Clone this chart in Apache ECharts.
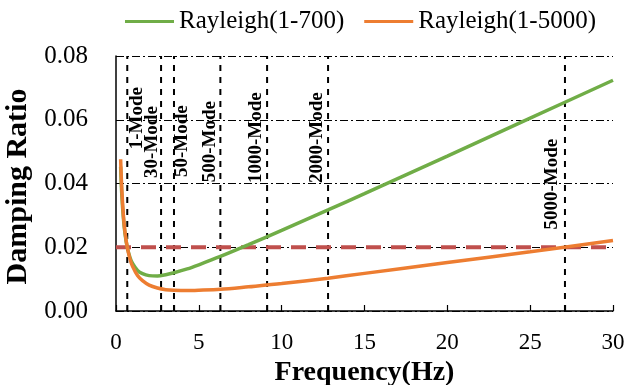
<!DOCTYPE html>
<html>
<head>
<meta charset="utf-8">
<script src="https://cdn.jsdelivr.net/npm/echarts@6/dist/echarts.min.js"></script>
<style>
  html, body { margin: 0; padding: 0; background: #fff; }
  #chart { width: 635px; height: 385px; }
</style>
</head>
<body>
<div id="chart"></div>
<script>
// frequency samples (Hz)
const freqs = [0.28, 0.35, 0.45, 0.55, 0.68, 0.85, 1.0, 1.3, 1.6, 2.0, 2.5, 3.0, 3.5, 4.3, 5, 6.3, 8, 10, 12.8, 15, 20, 25, 30]
const damp700 = [0.0453, 0.0365, 0.0289, 0.0240, 0.0200, 0.0167, 0.0149, 0.0127, 0.0117, 0.0111, 0.0110, 0.0114, 0.0120, 0.0132, 0.0145, 0.0171, 0.0208, 0.0253, 0.0317, 0.0368, 0.0486, 0.0605, 0.0724]
const damp5000 = [0.0476, 0.0382, 0.0298, 0.0245, 0.0200, 0.0162, 0.0140, 0.0111, 0.0095, 0.0081, 0.0072, 0.0067, 0.0065, 0.0064, 0.0065, 0.0068, 0.0076, 0.0086, 0.0103, 0.0118, 0.0152, 0.0186, 0.0221]

// mode frequencies marked by the vertical lines
const modeNames = ['1-Mode', '30-Mode', '50-Mode', '500-Mode', '1000-Mode', '2000-Mode', '5000-Mode']
const modeFreqs = [0.68, 2.72, 3.5, 6.3, 9.12, 12.8, 27.1]

const targetDamping = 0.02
const xTickLabels = [0, 5, 10, 15, 20, 25, 30]
const seriesNames = ['Rayleigh(1-700)', 'Rayleigh(1-5000)']

// where each mode label sits: pixel shift off its line, height in data units
const modeLabelPlace = [
  { dx: 10, y: 0.0605 },
  { dx: -9, y: 0.0530 },
  { dx: 8, y: 0.0533 },
  { dx: -10, y: 0.0531 },
  { dx: -11, y: 0.0544 },
  { dx: -11, y: 0.0544 },
  { dx: -13, y: 0.0398 }
]

const serif = '"Liberation Serif", "Times New Roman", serif'
const dashDot = [8, 3, 2, 3]

const chart = echarts.init(document.getElementById('chart'), null, { renderer: 'canvas' })

// one dashed vertical per mode, spanning the full y range
const modeLineSeries = modeFreqs.map(f => ({
  type: 'line',
  name: 'mode',
  silent: true,
  symbol: 'none',
  z: 1,
  lineStyle: { color: '#000', width: 2, type: [6, 6] },
  data: [[f, 0], [f, 0.08]]
}))

const option = {
  animation: false,
  backgroundColor: '#fff',
  legend: {
    top: 4,
    left: 120,
    itemWidth: 49,
    itemHeight: 3,
    itemGap: 20,
    textStyle: { fontFamily: serif, fontSize: 25, color: '#000' },
    data: seriesNames.map(n => ({ name: n, icon: 'rect' }))
  },
  grid: { left: 116, right: 22, top: 56, bottom: 74, containLabel: false, outerBoundsMode: 'none' },
  xAxis: {
    type: 'value',
    min: 0,
    max: 30,
    interval: 5,
    name: 'Frequency(Hz)',
    nameLocation: 'middle',
    nameGap: 40,
    nameTextStyle: { fontFamily: serif, fontSize: 28, fontWeight: 'bold', color: '#000' },
    axisLine: { lineStyle: { color: '#000', width: 1.5 } },
    axisTick: {
      show: true,
      inside: true,
      length: 6,
      lineStyle: { color: '#000', width: 1.2 },
      customValues: xTickLabels.concat(modeFreqs)
    },
    axisLabel: { fontFamily: serif, fontSize: 23, color: '#000', margin: 20 },
    splitLine: { show: false }
  },
  yAxis: {
    type: 'value',
    min: 0,
    max: 0.08,
    interval: 0.02,
    name: 'Damping Ratio',
    nameLocation: 'middle',
    nameRotate: 90,
    nameGap: 76,
    nameTextStyle: { fontFamily: serif, fontSize: 30, fontWeight: 'bold', color: '#000', padding: [0, 6, 0, 0] },
    axisLine: { show: true, lineStyle: { color: '#000', width: 1.5 } },
    axisTick: { show: false },
    axisLabel: {
      fontFamily: serif, fontSize: 25, color: '#000', margin: 28,
      formatter: v => v.toFixed(2)
    },
    splitLine: { lineStyle: { color: '#000', width: 1.2, type: dashDot } }
  },
  series: modeLineSeries.concat([
    {
      // rotated mode names beside their lines
      type: 'custom',
      name: 'modeLabels',
      silent: true,
      z: 1,
      data: modeFreqs.map((f, i) => [f, modeLabelPlace[i].y]),
      renderItem: (params, api) => {
        const i = params.dataIndex
        const p = api.coord([api.value(0), api.value(1)])
        return {
          type: 'text',
          x: p[0] + modeLabelPlace[i].dx,
          y: p[1],
          rotation: Math.PI / 2,
          style: {
            text: modeNames[i],
            fill: '#000',
            font: 'bold 19px ' + serif,
            align: 'center',
            verticalAlign: 'middle'
          }
        }
      }
    },
    {
      type: 'line',
      name: 'target',
      silent: true,
      symbol: 'none',
      z: 2,
      lineStyle: { color: '#C0504D', width: 4, type: [15, 10] },
      data: [[0, targetDamping], [30, targetDamping]]
    },
    {
      type: 'line',
      name: seriesNames[0],
      symbol: 'none',
      smooth: 0.3,
      z: 3,
      color: '#70AD47',
      lineStyle: { color: '#70AD47', width: 3.5 },
      data: freqs.map((f, i) => [f, damp700[i]])
    },
    {
      type: 'line',
      name: seriesNames[1],
      symbol: 'none',
      smooth: 0.3,
      z: 4,
      color: '#ED7D31',
      lineStyle: { color: '#ED7D31', width: 3.5 },
      data: freqs.map((f, i) => [f, damp5000[i]])
    }
  ])
}

chart.setOption(option)
</script>
</body>
</html>
